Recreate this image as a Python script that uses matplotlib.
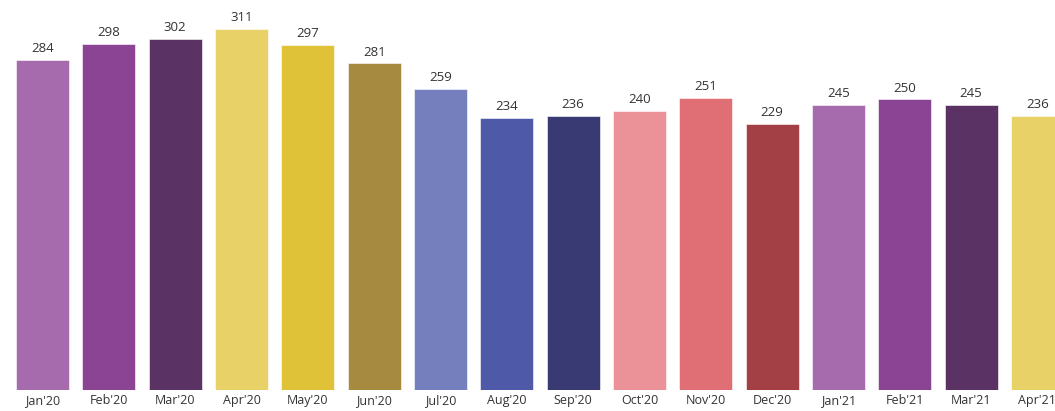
import matplotlib.pyplot as plt

months = ["Jan'20", "Feb'20", "Mar'20", "Apr'20", "May'20", "Jun'20",
          "Jul'20", "Aug'20", "Sep'20", "Oct'20", "Nov'20", "Dec'20",
          "Jan'21", "Feb'21", "Mar'21", "Apr'21"]
values = [284, 298, 302, 311, 297, 281, 259, 234, 236, 240, 251, 229,
          245, 250, 245, 236]
colors = ["#A56BAC", "#8B4393", "#5A3263", "#E8D166", "#DFC237", "#A68A40",
          "#757FBD", "#4E59A7", "#393A74", "#EA9298", "#E06F75", "#A34045",
          "#A56BAC", "#8B4393", "#5A3263", "#E8D166"]

plt.rcParams['font.family'] = ['Open Sans', 'DejaVu Sans']

fig = plt.figure(figsize=(10.55, 4.11), dpi=100)
ax = fig.add_axes([0, 21 / 411, 1, 390 / 411])

x = list(range(len(values)))
ax.bar(x, values, width=0.8, color=colors, edgecolor="white", linewidth=0.4)

# value labels above each bar
for xi, v in zip(x, values):
    ax.annotate(str(v), (xi, v), xytext=(0, 3.5), textcoords="offset points",
                ha="center", va="bottom", fontsize=9.5, color="#333333")

ax.set_xlim(-0.641, 15.265)
ax.set_ylim(0, 335.6)
ax.set_xticks(x)
ax.set_xticklabels(months, fontsize=9, color="#333333")
ax.tick_params(axis="x", length=0, pad=3)
ax.set_yticks([])
for s in ax.spines.values():
    s.set_visible(False)

fig.savefig("out.png", dpi=100)
